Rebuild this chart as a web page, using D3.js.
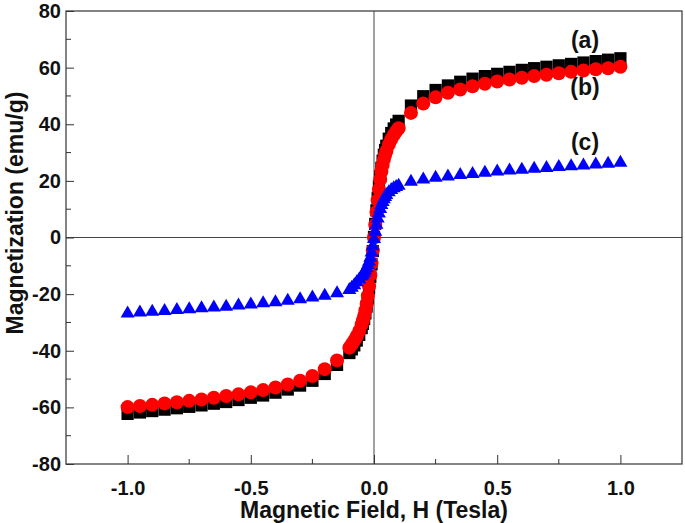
<!DOCTYPE html>
<html>
<head>
<meta charset="utf-8">
<script src="https://cdn.jsdelivr.net/npm/d3@7"></script>
<style>
  body { margin: 0; background: #fff; }
  text { font-family: "Liberation Sans", Arial, sans-serif; font-weight: bold; }
</style>
</head>
<body>
<div class="canvas"></div>
<script>
// field values (Tesla)
const field = [
  -1, -0.95, -0.9, -0.85, -0.8, -0.75, -0.7, -0.65, -0.6, -0.55, -0.5, -0.45, -0.4, -0.35, -0.3, -0.25, -0.2, -0.15,
  -0.1, -0.09, -0.08, -0.07, -0.06, -0.05, -0.045, -0.04, -0.035, -0.03, -0.025, -0.02, -0.015, -0.01, -0.005,
  0,
  0.005, 0.01, 0.015, 0.02, 0.025, 0.03, 0.035, 0.04, 0.045, 0.05, 0.06, 0.07, 0.08, 0.09, 0.1,
  0.15, 0.2, 0.25, 0.3, 0.35, 0.4, 0.45, 0.5, 0.55, 0.6, 0.65, 0.7, 0.75, 0.8, 0.85, 0.9, 0.95, 1
];

// magnetization (emu/g) for sample (a)
const magA = [
  -62.3, -61.8, -61.3, -60.8, -60.3, -59.8, -59.3, -58.7, -58.1, -57.4, -56.6, -55.8, -54.8, -53.7, -52.3, -50.6, -48.2, -45.0,
  -40.8, -39.5, -38.1, -36.4, -34.4, -32.0, -30.5, -28.8, -26.8, -24.4, -21.5, -17.9, -13.9, -9.5, -4.8,
  0.2,
  4.8, 9.6, 14.0, 18.0, 21.6, 24.6, 27.1, 29.2, 30.9, 32.4, 34.9, 36.9, 38.5, 39.9, 41.2,
  46.6, 49.9, 52.1, 53.7, 55.0, 56.1, 57.0, 57.8, 58.5, 59.2, 59.8, 60.3, 60.8, 61.3, 61.8, 62.3, 62.8, 63.3
];

// sample (b)
const magB = [
  -59.9, -59.5, -59.1, -58.6, -58.2, -57.7, -57.2, -56.6, -56.0, -55.4, -54.7, -53.9, -53.0, -51.9, -50.6, -48.9, -46.5, -43.4,
  -38.9, -37.7, -36.4, -34.9, -33.0, -30.7, -29.3, -27.7, -25.8, -23.5, -20.7, -17.2, -13.3, -9.1, -4.6,
  0,
  4.5, 9.0, 13.2, 17.0, 20.5, 23.3, 25.6, 27.5, 29.1, 30.5, 32.8, 34.7, 36.2, 37.5, 38.6,
  44.0, 47.3, 49.5, 51.1, 52.3, 53.4, 54.3, 55.1, 55.8, 56.4, 57.0, 57.5, 58.0, 58.5, 59.0, 59.4, 59.8, 60.3
];

// sample (c)
const magC = [
  -26.3, -26.0, -25.7, -25.4, -25.1, -24.8, -24.5, -24.2, -23.9, -23.5, -23.1, -22.7, -22.3, -21.8, -21.3, -20.7, -20.0, -19.2,
  -18.0, -17.2, -16.3, -15.3, -14.3, -13.2, -12.6, -11.9, -11.1, -10.2, -9.2, -8.0, -6.6, -4.8, -2.6,
  0,
  2.6, 5.0, 7.2, 9.0, 10.6, 12.0, 13.1, 14.0, 14.8, 15.5, 16.5, 17.3, 17.9, 18.4, 18.8,
  20.2, 21.0, 21.6, 22.1, 22.6, 23.0, 23.4, 23.8, 24.2, 24.5, 24.8, 25.1, 25.4, 25.7, 26.0, 26.3, 26.6, 26.9
];

const seriesNames = ['(a)', '(b)', '(c)'];
const xTicks = [-1, -0.5, 0, 0.5, 1];
const xMinor = [-0.75, -0.25, 0.25, 0.75];
const yTicks = [-80, -60, -40, -20, 0, 20, 40, 60, 80];
const yMinor = [-70, -50, -30, -10, 10, 30, 50, 70];

// graph setup
const dims = { width: 685, height: 523 };
const margins = { top: 11, right: 3, bottom: 59, left: 66 };

const svg = d3.select('.canvas')
  .append('svg')
  .attr('width', dims.width)
  .attr('height', dims.height);

const x = d3.scaleLinear()
  .domain([-1.25, 1.25])
  .range([margins.left, dims.width - margins.right]);

const y = d3.scaleLinear()
  .domain([-80, 80])
  .range([dims.height - margins.bottom, margins.top]);

const x0 = margins.left, x1 = dims.width - margins.right;
const y0 = dims.height - margins.bottom, y1 = margins.top;

// zero lines
svg.append('line')
  .attr('x1', x(0)).attr('x2', x(0))
  .attr('y1', y1).attr('y2', y0)
  .attr('stroke', '#444').attr('stroke-width', 1);
svg.append('line')
  .attr('x1', x0).attr('x2', x1)
  .attr('y1', y(0)).attr('y2', y(0))
  .attr('stroke', '#444').attr('stroke-width', 1);

// markers
const data = field.map((h, i) => ({ h, a: magA[i], b: magB[i], c: magC[i] }));

svg.append('g').selectAll('path')
  .data(data)
  .enter().append('path')
  .attr('d', d3.symbol().type(d3.symbolSquare).size(150))
  .attr('transform', d => `translate(${x(d.h)},${y(d.a)})`)
  .attr('fill', '#000');

svg.append('g').selectAll('circle')
  .data(data)
  .enter().append('circle')
  .attr('cx', d => x(d.h))
  .attr('cy', d => y(d.b))
  .attr('r', 7)
  .attr('fill', '#ff0000');

svg.append('g').selectAll('path')
  .data(data)
  .enter().append('path')
  .attr('d', 'M0,-6.5L7,5.5L-7,5.5Z')
  .attr('transform', d => `translate(${x(d.h)},${y(d.c)})`)
  .attr('fill', '#0000ff');

// frame
svg.append('rect')
  .attr('x', x0).attr('y', y1)
  .attr('width', x1 - x0).attr('height', y0 - y1)
  .attr('fill', 'none')
  .attr('stroke', '#333')
  .attr('stroke-width', 1.2);

// axes (ticks inside), plain hyphen for negatives
const fmtX = d => d3.format('.1f')(d).replace('\u2212', '-');
const fmtY = d => String(d);

const xAxis = svg.append('g')
  .attr('transform', `translate(0,${y0})`)
  .call(d3.axisBottom(x).tickValues(xTicks).tickSizeInner(-9).tickSizeOuter(0).tickPadding(17)
    .tickFormat(fmtX));
xAxis.append('g').selectAll('line')
  .data(xMinor).enter().append('line')
  .attr('x1', d => x(d)).attr('x2', d => x(d))
  .attr('y1', 0).attr('y2', -5)
  .attr('stroke', '#333');

const yAxis = svg.append('g')
  .attr('transform', `translate(${x0},0)`)
  .call(d3.axisLeft(y).tickValues(yTicks).tickSizeInner(-8).tickSizeOuter(0).tickPadding(5)
    .tickFormat(fmtY));
yAxis.append('g').selectAll('line')
  .data(yMinor).enter().append('line')
  .attr('y1', d => y(d)).attr('y2', d => y(d))
  .attr('x1', 0).attr('x2', 5)
  .attr('stroke', '#333');

[xAxis, yAxis].forEach(ax => {
  ax.select('.domain').remove();
  ax.selectAll('.tick line').attr('stroke', '#333');
  ax.selectAll('.tick text')
    .attr('font-size', 20)
    .attr('font-family', '"Liberation Sans", Arial, sans-serif')
    .attr('font-weight', 'bold')
    .attr('fill', '#111');
});

// axis titles
svg.append('text')
  .attr('x', x(0))
  .attr('y', 518)
  .attr('text-anchor', 'middle')
  .attr('font-size', 23)
  .attr('fill', '#111')
  .text('Magnetic Field, H (Tesla)');

svg.append('text')
  .attr('transform', 'translate(23,213) rotate(-90)')
  .attr('text-anchor', 'middle')
  .attr('font-size', 23)
  .attr('fill', '#111')
  .text('Magnetization (emu/g)');

// series labels
const labelPos = [48, 95, 150];
svg.append('g').selectAll('text')
  .data(seriesNames)
  .enter().append('text')
  .attr('x', 585)
  .attr('y', (d, i) => labelPos[i])
  .attr('text-anchor', 'middle')
  .attr('font-size', 23)
  .attr('fill', '#111')
  .text(d => d);
</script>
</body>
</html>
